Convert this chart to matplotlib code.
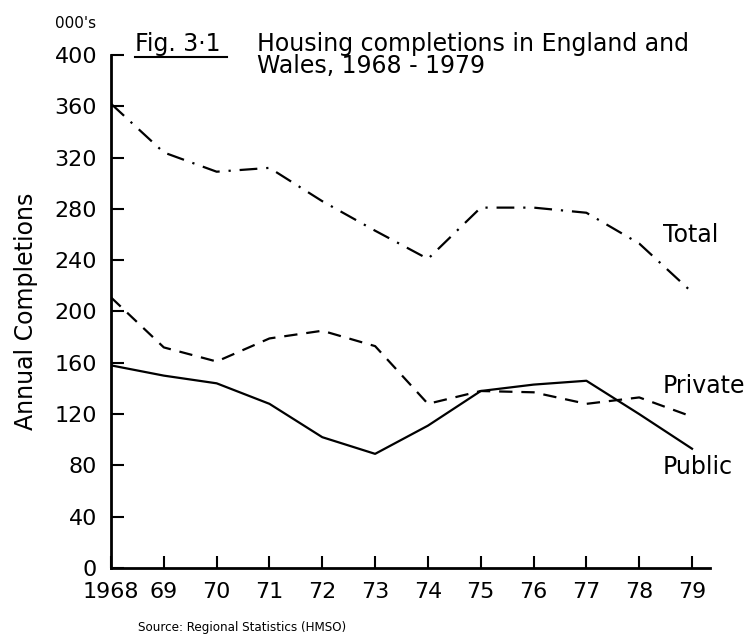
import matplotlib.pyplot as plt

# --- data (thousands) ---
years = [1968, 1969, 1970, 1971, 1972, 1973, 1974, 1975, 1976, 1977, 1978, 1979]
year_labels = ['1968', '69', '70', '71', '72', '73', '74', '75', '76', '77', '78', '79']
total = [362, 324, 309, 312, 286, 263, 241, 281, 281, 277, 253, 215]
private = [211, 172, 161, 179, 185, 173, 128, 138, 137, 128, 133, 118]
public = [158, 150, 144, 128, 102, 89, 111, 138, 143, 146, 120, 93]
y_ticks = [0, 40, 80, 120, 160, 200, 240, 280, 320, 360, 400]

FONT = dict(family='DejaVu Sans')
NARROW = dict(family='DejaVu Sans', stretch='condensed')

fig = plt.figure(figsize=(7.54, 6.39), dpi=100)
ax = fig.add_axes([111 / 754, 71 / 639, 599 / 754, 513 / 639])

ax.plot(years, total, color='black', lw=1.6, linestyle=(0, (8, 4, 1, 4)))
ax.plot(years, private, color='black', lw=1.6, linestyle=(0, (6, 4)))
ax.plot(years, public, color='black', lw=1.6, linestyle='-')

ax.set_xlim(1968, 1979.34)
ax.set_ylim(0, 400)
ax.set_xticks(years)
ax.set_xticklabels(year_labels, fontsize=16, **FONT)
ax.set_yticks(y_ticks)
ax.set_yticklabels([str(v) for v in y_ticks], fontsize=16, **FONT)
ax.tick_params(direction='in', length=9, width=1.5, pad=10)

for s in ['top', 'right']:
    ax.spines[s].set_visible(False)
for s in ['left', 'bottom']:
    ax.spines[s].set_linewidth(2)

ax.set_ylabel('Annual Completions', fontsize=17, labelpad=12, **FONT)

# line labels
ax.text(1978.45, 260, 'Total', fontsize=17, ha='left', va='center', **FONT)
ax.text(1978.45, 142, 'Private', fontsize=17, ha='left', va='center', **FONT)
ax.text(1978.45, 79, 'Public', fontsize=17, ha='left', va='center', **FONT)

# title block
fig.text(55 / 754, 1 - 23 / 639, "000's", fontsize=11, ha='left', va='center', **FONT)
fig.text(135 / 754, 1 - 44 / 639, 'Fig. 3·1', fontsize=17, ha='left', va='center', **FONT)
fig.add_artist(plt.Line2D([135 / 754, 227 / 754], [1 - 57 / 639, 1 - 57 / 639],
                          color='black', lw=1.5))
fig.text(257 / 754, 1 - 44 / 639, 'Housing completions in England and', fontsize=17,
         ha='left', va='center', **FONT)
fig.text(257 / 754, 1 - 66 / 639, 'Wales, 1968 - 1979', fontsize=17,
         ha='left', va='center', **FONT)

fig.text(138 / 754, 1 - 627 / 639, 'Source: Regional Statistics (HMSO)', fontsize=9.5,
         ha='left', va='center', **NARROW)

fig.savefig('out.png', dpi=100)
